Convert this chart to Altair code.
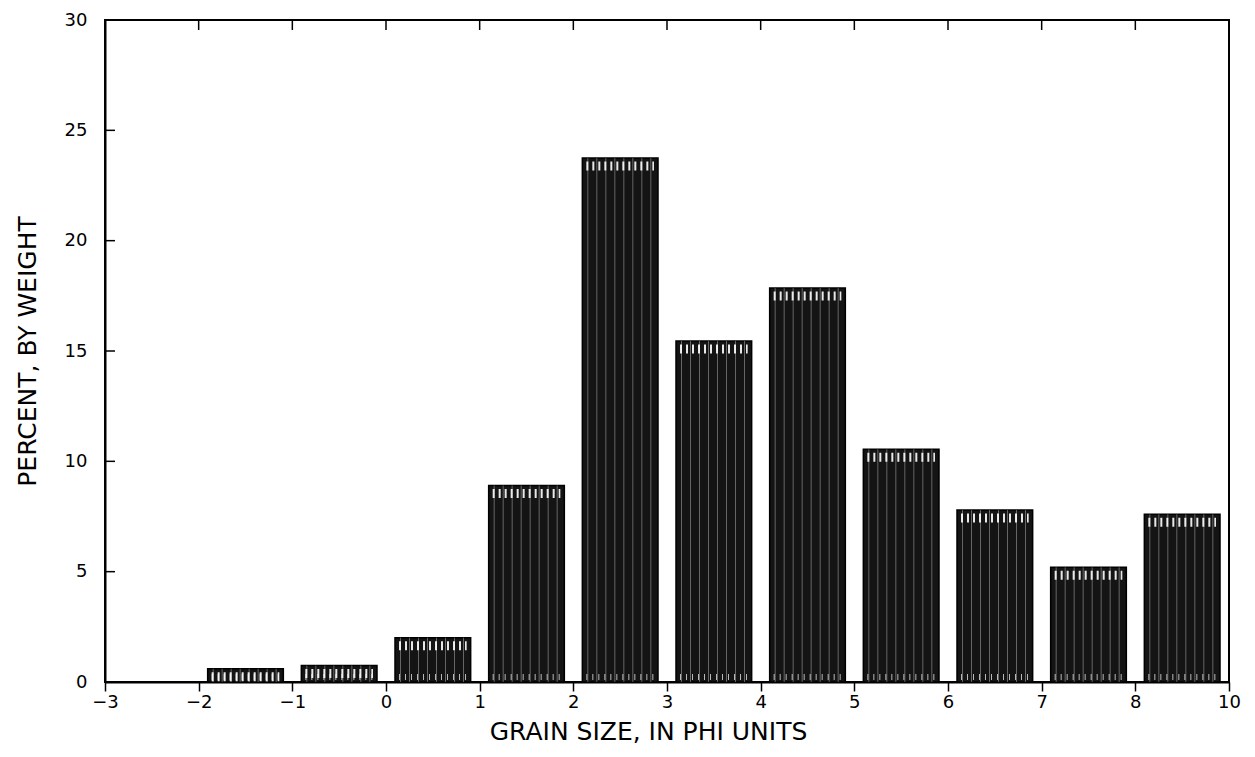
import altair as alt
import pandas as pd

# Grain-size histogram data (percent by weight per phi class)
bin_start = [-2, -1, 0, 1, 2, 3, 4, 5, 6, 7, 8]
bin_end = [-1, 0, 1, 2, 3, 4, 5, 6, 7, 8, 10]
percent = [0.6, 0.75, 2.0, 8.9, 23.75, 15.45, 17.85, 10.55, 7.8, 5.2, 7.6]
x_ticks = [-3, -2, -1, 0, 1, 2, 3, 4, 5, 6, 7, 8, 10]
top_ticks = [-2, -1, 0, 1, 2, 3, 4, 5, 6, 7, 8]
y_ticks = [0, 5, 10, 15, 20, 25, 30]

W, H = 1124, 662
FONT = "DejaVu Sans"

bars = pd.DataFrame({"start": bin_start, "end": bin_end, "pct": percent})
yt = pd.DataFrame({"v": y_ticks[1:-1]})
xt = pd.DataFrame({"v": top_ticks})

xscale = alt.Scale(domain=[-3, 8, 10], range=[0, W * 11 / 12, W], nice=False, zero=False)
yscale = alt.Scale(domain=[0, 30], nice=False, zero=True)

xaxis = alt.Axis(
    values=x_ticks, format="d", title="GRAIN SIZE, IN PHI UNITS", tickSize=9, tickWidth=1.5,
    tickColor="black", domainColor="black", domainWidth=2, labelFontSize=18,
    labelColor="black", labelFont=FONT, labelPadding=2, titleFont=FONT,
    titleFontSize=25, titleFontWeight="normal", titleColor="black", titlePadding=8,
    titleX=543, titleAlign="center", titleAnchor="start",
    grid=False, labelFlush=False,
)
yaxis = alt.Axis(
    values=y_ticks, format="d", title="PERCENT, BY WEIGHT", tickSize=0, domainColor="black",
    domainWidth=2, labelFontSize=18, labelColor="black", labelFont=FONT,
    labelPadding=18, titleFont=FONT, titleFontSize=25, titleFontWeight="normal",
    titleColor="black", titlePadding=24, grid=False,
)

base = alt.Chart(bars)

bar_layer = base.mark_bar(color="#141414", stroke="black", strokeWidth=1.5,
                          xOffset=9, x2Offset=-9).encode(
    x=alt.X("start:Q", scale=xscale, axis=xaxis),
    x2="end:Q",
    y=alt.Y("pct:Q", scale=yscale, axis=yaxis),
    y2=alt.datum(0),
)

streaks = base.transform_calculate(mid="datum.pct / 2").mark_rule(
    color="white", strokeDash=[1, 8], xOffset=14, x2Offset=-14, opacity=0.35,
).encode(
    x="start:Q", x2="end:Q", y="mid:Q",
    size=alt.Size("pct:Q", scale=alt.Scale(domain=[0, 30], range=[0, H]), legend=None),
)

comb_top = base.mark_rule(color="white", strokeWidth=9, strokeDash=[2, 4],
                          yOffset=8, xOffset=13, x2Offset=-13, opacity=0.9).encode(
    x="start:Q", x2="end:Q", y="pct:Q",
)

comb_bottom = base.mark_rule(color="white", strokeWidth=6, strokeDash=[1, 5],
                             yOffset=-5, xOffset=13, x2Offset=-13, opacity=0.7).encode(
    x="start:Q", x2="end:Q", y=alt.datum(0),
)

ytick_layer = alt.Chart(yt).mark_rule(color="black", strokeWidth=1.5).encode(
    y="v:Q", x=alt.value(0), x2=alt.value(10),
)

xtick_layer = alt.Chart(xt).mark_rule(color="black", strokeWidth=1.5).encode(
    x="v:Q", y=alt.value(0), y2=alt.value(10),
)

chart = alt.layer(bar_layer, streaks, comb_top, comb_bottom, ytick_layer, xtick_layer).properties(
    width=W, height=H,
    autosize=alt.AutoSizeParams(type="none"),
    padding={"left": 105, "top": 20, "right": 26, "bottom": 75},
    background="white",
).configure_view(stroke="black", strokeWidth=2)

chart.save("out.html", embed_options={"renderer": "svg", "actions": False})
